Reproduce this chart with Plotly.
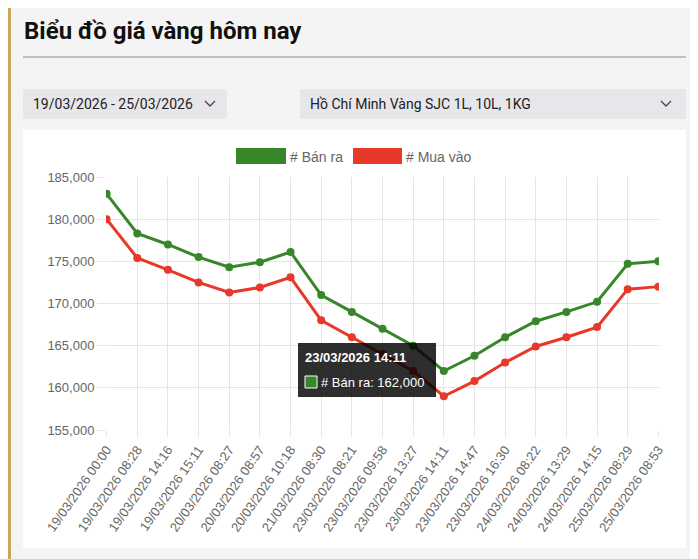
import plotly.graph_objects as go

labels = ["19/03/2026 00:00","19/03/2026 08:28","19/03/2026 14:16","19/03/2026 15:11","20/03/2026 08:27",
          "20/03/2026 08:57","20/03/2026 10:18","21/03/2026 08:30","23/03/2026 08:21","23/03/2026 09:58",
          "23/03/2026 13:27","23/03/2026 14:11","23/03/2026 14:47","23/03/2026 16:30","24/03/2026 08:22",
          "24/03/2026 13:29","24/03/2026 14:15","25/03/2026 08:29","25/03/2026 08:53"]
ban_ra = [183000,178300,177000,175500,174300,174900,176100,171000,169000,167000,165000,162000,
          163800,166000,167900,169000,170200,174700,175000]
mua_vao = [180000,175400,174000,172500,171300,171900,173100,168000,166000,164000,162000,159000,
           160800,163000,164900,166000,167200,171700,172000]

OFF = 8  # default page body margin
W, H = 690, 551
L, R, T, B = 106 - OFF, 659 - OFF, 177 - OFF, 430 - OFF
def px(x): return (x - OFF - L) / (R - L)
def py(y): return (B - (y - OFF)) / (B - T)

GREEN, RED = "#38862a", "#e8382a"
fig = go.Figure()
fig.add_trace(go.Scatter(x=labels, y=ban_ra, name="# Bán ra", mode="lines+markers",
    line=dict(color=GREEN, width=3), marker=dict(size=8, color=GREEN)))
fig.add_trace(go.Scatter(x=labels, y=mua_vao, name="# Mua vào", mode="lines+markers",
    line=dict(color=RED, width=3), marker=dict(size=8, color=RED)))

shapes = []
def rect(x0, y0, x1, y1, fill, line=None, layer="below"):
    shapes.append(dict(type="rect", xref="paper", yref="paper", x0=px(x0), x1=px(x1), y0=py(y1), y1=py(y0),
                       fillcolor=fill, line=dict(width=0 if line is None else 1, color=line or fill), layer=layer))
rect(0, 0, 720, 600, "#f4f4f4")
rect(8, 0, 11, 600, "#c9a55a")
rect(0, 0, 720, 3, "#c8d4e6")
rect(23, 130, 686, 548, "#ffffff")
rect(23, 89, 227, 119, "#e7e7eb")
rect(300, 89, 686, 119, "#e7e7eb")
shapes.append(dict(type="line", xref="paper", yref="paper", x0=px(23), x1=px(686), y0=py(57), y1=py(57),
                   line=dict(color="#8a8a8a", width=1)))
for cx in (210, 666):
    shapes.append(dict(type="path", xref="paper", yref="paper",
        path=f"M {px(cx-5)},{py(101)} L {px(cx)},{py(106)} L {px(cx+5)},{py(101)}",
        line=dict(color="#444", width=1.3)))
rect(236, 148, 286, 164, GREEN)
rect(353, 148, 402, 164, RED)
shapes.append(dict(type="rect", xref="paper", yref="paper", x0=px(298), x1=px(436), y0=py(397), y1=py(343),
                   fillcolor="rgba(0,0,0,0.82)", line=dict(width=0), layer="above"))
shapes.append(dict(type="rect", xref="paper", yref="paper", x0=px(305), x1=px(317), y0=py(388), y1=py(376),
                   fillcolor=GREEN, line=dict(width=1, color="#fff"), layer="above"))

anns = []
def text(x, y, s, size=13, color="#333", bold=False, xanchor="left", family="Roboto"):
    anns.append(dict(xref="paper", yref="paper", x=px(x), y=py(y), text=f"<b>{s}</b>" if bold else s,
                     showarrow=False, xanchor=xanchor, yanchor="middle",
                     font=dict(size=size, color=color, family=family)))
text(22, 31, "Biểu đồ giá vàng hôm nay", size=24, color="#111", bold=True)
text(31, 104, "19/03/2026 - 25/03/2026", size=14, color="#222")
text(308, 104, "Hồ Chí Minh Vàng SJC 1L, 10L, 1KG", size=14, color="#222")
text(288, 157, "# Bán ra", size=14, color="#666", family="Liberation Sans")
text(404, 157, "# Mua vào", size=14, color="#666", family="Liberation Sans")
text(303, 357, "23/03/2026 14:11", size=13, color="#fff", bold=True, family="Liberation Sans")
text(319, 382, "# Bán ra: 162,000", size=13, color="#fff", family="Liberation Sans")

fig.update_layout(
    width=W, height=H, margin=dict(l=L, r=W-R, t=T, b=H-B),
    paper_bgcolor="#f4f4f4", plot_bgcolor="#ffffff", showlegend=False,
    shapes=shapes, annotations=anns,
    xaxis=dict(showgrid=True, gridcolor="#e5e5e5", tickangle=-55, range=[-0.02, 18.02],
               tickfont=dict(size=13, color="#666", family="Liberation Sans"), ticks="outside",
               ticklen=6, tickcolor="#e5e5e5", showline=False, zeroline=False),
    yaxis=dict(range=[155000, 185000], dtick=5000, tickformat=",", showgrid=True, gridcolor="#e5e5e5",
               tickfont=dict(size=13, color="#666", family="Liberation Sans"), ticks="outside",
               ticklen=8, tickcolor="#e5e5e5", zeroline=False),
)
fig.write_html("out.html")
